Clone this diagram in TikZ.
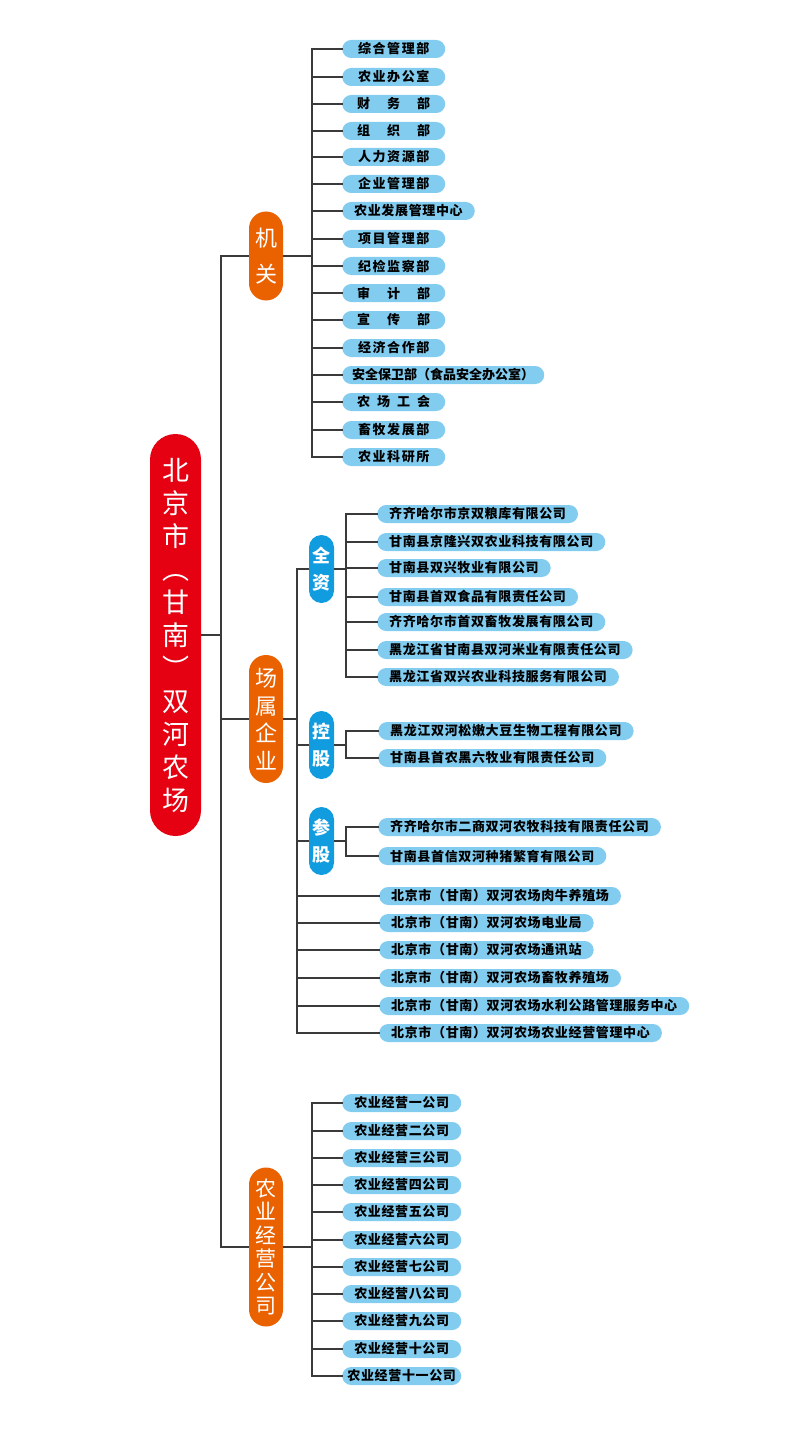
\documentclass[tikz,border=0pt]{standalone}
\usepackage{fontspec}
\usepackage{tikz}
\newfontfamily\cjk{Noto Sans CJK SC}
\newfontfamily\itemfont{Noto Sans CJK SC}[LetterSpace=5]
\newfontfamily\widefont{Noto Sans CJK SC}[LetterSpace=12]
\newcommand\spreadtext[1]{\makebox[73pt][s]{#1}}
\definecolor{rootred}{HTML}{E50012}
\definecolor{branchor}{HTML}{EA6100}
\definecolor{kindbl}{HTML}{129CE0}
\definecolor{itembl}{HTML}{82CCF0}
\definecolor{linegray}{HTML}{3A3A3A}
\begin{document}
\begin{tikzpicture}[x=1pt,y=-1pt,
	link/.style={draw=linegray,line width=1.3pt,line cap=rect},
	rootbox/.style={fill=rootred,text=white,rounded corners=25.5pt,minimum width=51pt,minimum height=402pt,inner sep=0pt,align=center,font={\cjk\fontsize{27}{33}\selectfont}},
	branch/.style={fill=branchor,text=white,rounded corners=17pt,minimum width=34pt,inner sep=0pt,align=center},
	kind/.style={fill=kindbl,text=white,rounded corners=12.5pt,minimum width=25pt,minimum height=68pt,inner sep=0pt,align=center,font={\cjk\fontsize{18}{27}\selectfont\bfseries}},
	unit/.style={fill=itembl,rounded corners=9pt,minimum height=18pt,inner xsep=12pt,inner ysep=0pt,anchor=west,font={\itemfont\fontsize{13}{14}\selectfont\bfseries}},
	dept/.style={unit,minimum width=103pt,font={\widefont\fontsize{13}{14}\selectfont\bfseries}},
	firm/.style={unit,minimum width=119pt,inner xsep=5pt}]
			\useasboundingbox (0,0) rectangle (810,1439);
			\coordinate (trunk) at (221,0);
			\coordinate (busjg) at (312,0);
			\coordinate (buscs) at (297,0);
			\coordinate (busqz) at (346,0);
			\coordinate (busgs) at (346,0);
			\coordinate (busny) at (312,0);
			\node[rootbox] (root) at (175.5,635) {北\\京\\市\\︵\\甘\\南\\︶\\双\\河\\农\\场};
			\node[branch,minimum height=89pt,font={\cjk\fontsize{22}{36}\selectfont}] (jg) at (266,256) {机\\关};
			\node[branch,minimum height=128pt,font={\cjk\fontsize{22}{27.5}\selectfont}] (cs) at (266,719) {场\\属\\企\\业};
			\node[branch,minimum height=159pt,font={\cjk\fontsize{21}{23.5}\selectfont}] (ny) at (266,1247) {农\\业\\经\\营\\公\\司};
			\node[kind] (qz) at (321.5,569) {全\\资};
			\node[kind] (kg) at (321.5,745) {控\\股};
			\node[kind] (cg) at (321.5,841) {参\\股};
			\node[dept] (a1) at (342,49) {综合管理部};
			\node[dept] (a2) at (342,77) {农业办公室};
			\node[dept] (a3) at (342,104) {\spreadtext{财\hfill 务\hfill 部}};
			\node[dept] (a4) at (342,131) {\spreadtext{组\hfill 织\hfill 部}};
			\node[dept] (a5) at (342,157) {人力资源部};
			\node[dept] (a6) at (342,184) {企业管理部};
			\node[unit] (a7) at (342,211) {农业发展管理中心};
			\node[dept] (a8) at (342,239) {项目管理部};
			\node[dept] (a9) at (342,266) {纪检监察部};
			\node[dept] (a10) at (342,293) {\spreadtext{审\hfill 计\hfill 部}};
			\node[dept] (a11) at (342,320) {\spreadtext{宣\hfill 传\hfill 部}};
			\node[dept] (a12) at (342,348) {经济合作部};
			\node[unit,inner xsep=10pt,font={\cjk\fontsize{13}{14}\selectfont\bfseries}] (a13) at (342,375) {安全保卫部（食品安全办公室）};
			\node[dept] (a14) at (342,402) {\spreadtext{农\hfill 场\hfill 工\hfill 会}};
			\node[dept] (a15) at (342,430) {畜牧发展部};
			\node[dept] (a16) at (342,457) {农业科研所};
			\node[unit] (b1) at (377,514) {齐齐哈尔市京双粮库有限公司};
			\node[unit] (b2) at (377,542) {甘南县京隆兴双农业科技有限公司};
			\node[unit] (b3) at (377,568) {甘南县双兴牧业有限公司};
			\node[unit] (b4) at (377,597) {甘南县首双食品有限责任公司};
			\node[unit] (b5) at (377,622) {齐齐哈尔市首双畜牧发展有限公司};
			\node[unit] (b6) at (377,650) {黑龙江省甘南县双河米业有限责任公司};
			\node[unit] (b7) at (377,677) {黑龙江省双兴农业科技服务有限公司};
			\node[unit] (c1) at (378,731) {黑龙江双河松嫩大豆生物工程有限公司};
			\node[unit] (c2) at (378,758) {甘南县首农黑六牧业有限责任公司};
			\node[unit] (d1) at (378,827) {齐齐哈尔市二商双河农牧科技有限责任公司};
			\node[unit] (d2) at (378,856) {甘南县首信双河种猪繁育有限公司};
			\node[unit] (e1) at (379,896) {北京市（甘南）双河农场肉牛养殖场};
			\node[unit] (e2) at (379,923) {北京市（甘南）双河农场电业局};
			\node[unit] (e3) at (379,950) {北京市（甘南）双河农场通讯站};
			\node[unit] (e4) at (379,978) {北京市（甘南）双河农场畜牧养殖场};
			\node[unit] (e5) at (379,1006) {北京市（甘南）双河农场水利公路管理服务中心};
			\node[unit] (e6) at (379,1033) {北京市（甘南）双河农场农业经营管理中心};
			\node[firm] (f1) at (342,1103) {农业经营一公司};
			\node[firm] (f2) at (342,1131) {农业经营二公司};
			\node[firm] (f3) at (342,1158) {农业经营三公司};
			\node[firm] (f4) at (342,1185) {农业经营四公司};
			\node[firm] (f5) at (342,1212) {农业经营五公司};
			\node[firm] (f6) at (342,1240) {农业经营六公司};
			\node[firm] (f7) at (342,1267) {农业经营七公司};
			\node[firm] (f8) at (342,1294) {农业经营八公司};
			\node[firm] (f9) at (342,1321) {农业经营九公司};
			\node[firm] (f10) at (342,1349) {农业经营十公司};
			\node[firm] (f11) at (342,1376) {农业经营十一公司};
			\draw[link] (root.east) -- (root.east -| trunk);
			\draw[link] (trunk |- jg) -- (trunk |- ny);
			\draw[link] (trunk |- jg) -- (jg.west) (trunk |- cs) -- (cs.west) (trunk |- ny) -- (ny.west);
			\draw[link] (jg.east) -- (jg.east -| busjg) (busjg |- a1) -- (busjg |- a16);
			\draw[link] (cs.east) -- (cs.east -| buscs) (buscs |- qz) -- (buscs |- e6);
			\draw[link] (ny.east) -- (ny.east -| busny) (busny |- f1) -- (busny |- f11);
			\draw[link] (buscs |- qz) -- (qz.west) (buscs |- kg) -- (kg.west) (buscs |- cg) -- (cg.west);
			\draw[link] (qz.east) -- (qz.east -| busqz) (busqz |- b1) -- (busqz |- b7);
			\draw[link] (kg.east) -- (kg.east -| busgs) (busgs |- c1) -- (busgs |- c2);
			\draw[link] (cg.east) -- (cg.east -| busgs) (busgs |- d1) -- (busgs |- d2);
			\draw[link] (a1.west -| busjg) -- (a1.west) (a2.west -| busjg) -- (a2.west) (a3.west -| busjg) -- (a3.west) (a4.west -| busjg) -- (a4.west);
			\draw[link] (a5.west -| busjg) -- (a5.west) (a6.west -| busjg) -- (a6.west) (a7.west -| busjg) -- (a7.west) (a8.west -| busjg) -- (a8.west);
			\draw[link] (a9.west -| busjg) -- (a9.west) (a10.west -| busjg) -- (a10.west) (a11.west -| busjg) -- (a11.west) (a12.west -| busjg) -- (a12.west);
			\draw[link] (a13.west -| busjg) -- (a13.west) (a14.west -| busjg) -- (a14.west) (a15.west -| busjg) -- (a15.west) (a16.west -| busjg) -- (a16.west);
			\draw[link] (b1.west -| busqz) -- (b1.west) (b2.west -| busqz) -- (b2.west) (b3.west -| busqz) -- (b3.west) (b4.west -| busqz) -- (b4.west);
			\draw[link] (b5.west -| busqz) -- (b5.west) (b6.west -| busqz) -- (b6.west) (b7.west -| busqz) -- (b7.west);
			\draw[link] (c1.west -| busgs) -- (c1.west) (c2.west -| busgs) -- (c2.west) (d1.west -| busgs) -- (d1.west) (d2.west -| busgs) -- (d2.west);
			\draw[link] (e1.west -| buscs) -- (e1.west) (e2.west -| buscs) -- (e2.west) (e3.west -| buscs) -- (e3.west);
			\draw[link] (e4.west -| buscs) -- (e4.west) (e5.west -| buscs) -- (e5.west) (e6.west -| buscs) -- (e6.west);
			\draw[link] (f1.west -| busny) -- (f1.west) (f2.west -| busny) -- (f2.west) (f3.west -| busny) -- (f3.west) (f4.west -| busny) -- (f4.west);
			\draw[link] (f5.west -| busny) -- (f5.west) (f6.west -| busny) -- (f6.west) (f7.west -| busny) -- (f7.west) (f8.west -| busny) -- (f8.west);
			\draw[link] (f9.west -| busny) -- (f9.west) (f10.west -| busny) -- (f10.west) (f11.west -| busny) -- (f11.west);
		\end{tikzpicture}
\end{document}
